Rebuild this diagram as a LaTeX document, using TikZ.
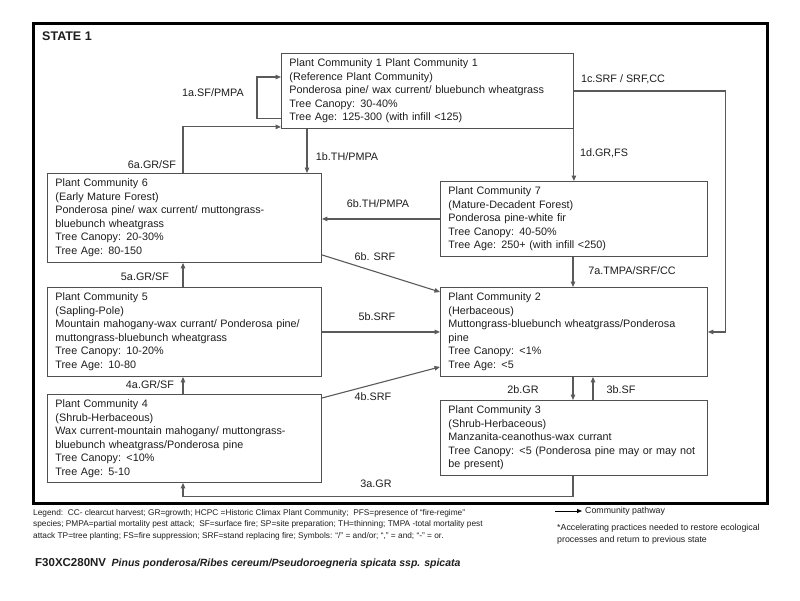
\documentclass[tikz,border=0pt]{standalone}
\usepackage{fontspec}
\setmainfont{Liberation Sans}
\usetikzlibrary{arrows.meta,calc}
\definecolor{txt}{HTML}{1E1E1E}
\definecolor{boxc}{HTML}{505050}
\definecolor{linec}{HTML}{5A5A5A}
\begin{document}
\begin{tikzpicture}[x=1pt,y=-1pt,
  box/.style={draw=boxc, line width=0.9pt, anchor=north west, align=left,
    inner xsep=8pt, inner ysep=0pt, text=txt, font=\fontsize{10.8}{13.5}\selectfont},
  conn/.style={draw=linec, line width=1.1pt, -{Triangle[length=5.5pt,width=4.5pt]}},
  lbl/.style={font=\fontsize{10.8}{13}\selectfont, inner sep=0pt, text=txt},
  legtxt/.style={font=\fontsize{8.3}{10}\selectfont, inner sep=0pt, anchor=base west, text=txt},
  legtxtb/.style={font=\fontsize{8.8}{10}\selectfont, inner sep=0pt, anchor=base west, text=txt},
]
\useasboundingbox[fill=white] (0,0) rectangle (800,600);
% frame
\draw[line width=3pt] (33,23) rectangle (767,503);
\node[font=\fontsize{12.5}{14}\selectfont\bfseries, anchor=west, inner sep=0pt, text=txt] (state) at (42,36) {STATE 1};

% boxes
\node[box, text width=276pt, minimum height=75pt] (pc1) at (281,53)
 {Plant Community 1 Plant Community 1\\(Reference Plant Community)\\Ponderosa pine/ wax current/ bluebunch wheatgrass\\Tree Canopy: 30-40\%\\Tree Age: 125-300 (with infill <125)};
\node[box, text width=251pt, minimum height=75pt] (pc7) at (440,181)
 {Plant Community 7\\(Mature-Decadent Forest)\\Ponderosa pine-white fir\\Tree Canopy: 40-50\%\\Tree Age: 250+ (with infill <250)};
\node[box, text width=258pt, minimum height=89pt] (pc6) at (47,173)
 {Plant Community 6\\(Early Mature Forest)\\Ponderosa pine/ wax current/ muttongrass-\\bluebunch wheatgrass\\Tree Canopy: 20-30\%\\Tree Age: 80-150};
\node[box, text width=258pt, minimum height=89pt] (pc5) at (47,287)
 {Plant Community 5\\(Sapling-Pole)\\\mbox{Mountain mahogany-wax currant/ Ponderosa pine/}\\muttongrass-bluebunch wheatgrass\\Tree Canopy: 10-20\%\\Tree Age: 10-80};
\node[box, text width=251pt, minimum height=89pt] (pc2) at (440,287)
 {Plant Community 2\\(Herbaceous)\\\mbox{Muttongrass-bluebunch wheatgrass/Ponderosa}\\pine\\Tree Canopy: <1\%\\Tree Age: <5};
\node[box, text width=258pt, minimum height=88pt] (pc4) at (47,394)
 {Plant Community 4\\(Shrub-Herbaceous)\\Wax current-mountain mahogany/ muttongrass-\\bluebunch wheatgrass/Ponderosa pine\\Tree Canopy: <10\%\\Tree Age: 5-10};
\node[box, text width=251pt, minimum height=75pt] (pc3) at (440,400)
 {Plant Community 3\\(Shrub-Herbaceous)\\Manzanita-ceanothus-wax currant\\\mbox{Tree Canopy: <5 (Ponderosa pine may or may not}\\be present)};

% helper coordinates
\coordinate (a1s) at ($(pc1.south west)+(0,-10)$);
\coordinate (b1) at ($(pc1.south west)+(26,0)$);
\coordinate (c6) at ($(pc6.north west)+(136,0)$);
\coordinate (c5) at ($(pc5.north west)+(136,0)$);
\coordinate (c4) at ($(pc4.north west)+(136,0)$);
\coordinate (c4b) at ($(pc4.south west)+(136,0)$);
\coordinate (c7) at ($(pc7.south west)+(133,0)$);
\coordinate (c2) at ($(pc2.south west)+(133,0)$);
\coordinate (c3) at ($(pc3.north west)+(153,0)$);
\coordinate (c3a) at ($(pc3.south west)+(133,0)$);

% connectors
\draw[conn] (a1s) -| ($(pc1.north west)+(-24,24)$) -- ($(pc1.north west)+(0,24)$);
\draw[conn] (c6) |- ($(pc1.south west)+(0,-2)$);
\draw[conn] (b1) -- (b1 |- pc6.north);
\draw[conn] (pc1.east) -- ++(152,0) |- (pc2.east);
\draw[conn] (pc1.south east) -- (pc1.south east |- pc7.north);
\draw[conn] (pc7.west) -- (pc7.west -| pc6.east);
\draw[conn] ($(pc6.south east)+(0,-8)$) -- ($(pc2.north west)+(0,5)$);
\draw[conn] (c5) -- (c5 |- pc6.south);
\draw[conn] (pc5.east) -- (pc2.west);
\draw[conn] (c4) -- (c4 |- pc5.south);
\draw[conn] ($(pc4.north east)+(0,4)$) -- ($(pc2.south west)+(0,-10)$);
\draw[conn] (c7) -- (c7 |- pc2.north);
\draw[conn] (c2) -- (c2 |- pc3.north);
\draw[conn] (c3) -- (c3 |- pc2.south);
\draw[conn] (c3a) -- ++(0,21) -| (c4b);

% connector labels
\node[lbl] (l1a) at (213,93) {1a.SF/PMPA};
\node[lbl] (l6a) at (152,165) {6a.GR/SF};
\node[lbl] (l1b) at (347,157) {1b.TH/PMPA};
\node[lbl] (l1c) at (623,79) {1c.SRF / SRF,CC};
\node[lbl] (l1d) at (604,153) {1d.GR,FS};
\node[lbl] (l6bth) at (378,204) {6b.TH/PMPA};
\node[lbl] (l6bsrf) at (375,257) {6b. SRF};
\node[lbl] (l5a) at (145,277) {5a.GR/SF};
\node[lbl] (l5b) at (377,317) {5b.SRF};
\node[lbl] (l4a) at (150,385) {4a.GR/SF};
\node[lbl] (l4b) at (373,397) {4b.SRF};
\node[lbl] (l7a) at (632,271) {7a.TMPA/SRF/CC};
\node[lbl] (l2b) at (523,390) {2b.GR};
\node[lbl] (l3b) at (621,390) {3b.SF};
\node[lbl] (l3a) at (376,484) {3a.GR};

% legend
\node[legtxt] (leg1) at (33,515) {Legend:\ \ CC- clearcut harvest; GR=growth; HCPC =Historic Climax Plant Community;\ \ PFS=presence of “fire-regime”};
\node[legtxt] (leg2) at (33,526.5) {species; PMPA=partial mortality pest attack;\ \ SF=surface fire; SP=site preparation; TH=thinning; TMPA -total mortality pest};
\node[legtxt] (leg3) at (33,538) {attack TP=tree planting; FS=fire suppression; SRF=stand replacing fire; Symbols: “/” = and/or; “,” = and; “-” = or.};
\coordinate (lgs) at (555,511);
\node[font=\fontsize{8.8}{10}\selectfont, anchor=west, inner xsep=3pt, inner ysep=0pt, text=txt] (lgp) at (582,511) {Community pathway};
\draw[line width=0.8pt, -{Triangle[length=5pt,width=4pt]}] (lgs) -- (lgp.west);
\node[legtxtb] (acc1) at (557,530) {*Accelerating practices needed to restore ecological};
\node[legtxtb] (acc2) at (557,542) {processes and return to previous state};

% title
\node[anchor=base west, inner sep=0pt, text=txt] (title) at (35,566)
 {{\fontsize{11.5}{13}\selectfont\bfseries F30XC280NV}\ \ {\fontsize{10.5}{13}\selectfont\bfseries\itshape Pinus ponderosa/Ribes cereum/Pseudoroegneria spicata ssp. spicata}};
\end{tikzpicture}
\end{document}
